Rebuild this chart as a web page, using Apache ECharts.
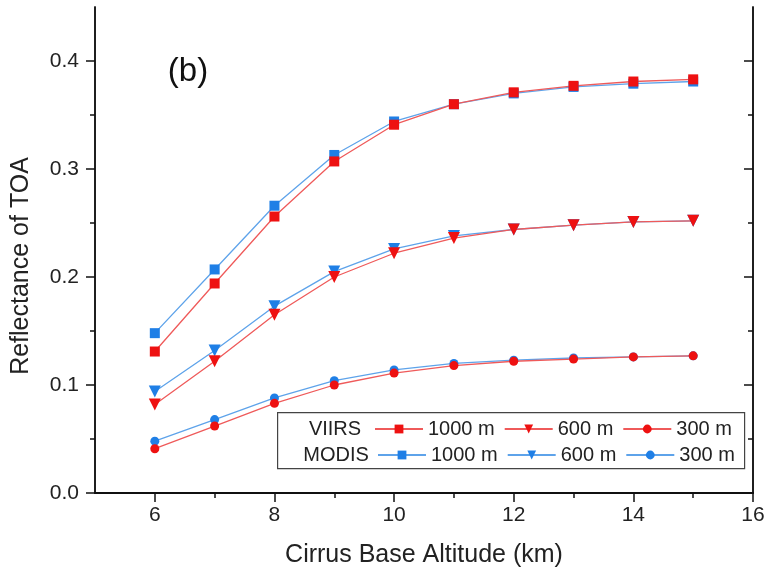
<!DOCTYPE html>
<html>
<head>
<meta charset="utf-8">
<script src="https://cdn.jsdelivr.net/npm/echarts@6.0.0/dist/echarts.min.js"></script>
<style>
html,body{margin:0;padding:0;background:#fff;}
#chart{width:768px;height:580px;}
</style>
</head>
<body>
<div id="chart"></div>
<script>
// ---- data ----
const altitudes = [6, 7, 8, 9, 10, 11, 12, 13, 14, 15];
const viirs1000 = [0.131, 0.194, 0.256, 0.307, 0.341, 0.360, 0.371, 0.377, 0.381, 0.383];
const modis1000 = [0.148, 0.207, 0.266, 0.313, 0.344, 0.360, 0.370, 0.376, 0.379, 0.381];
const viirs600  = [0.082, 0.122, 0.165, 0.200, 0.222, 0.236, 0.244, 0.248, 0.251, 0.252];
const modis600  = [0.094, 0.132, 0.173, 0.205, 0.226, 0.238, 0.244, 0.248, 0.251, 0.252];
const viirs300  = [0.041, 0.062, 0.083, 0.100, 0.111, 0.118, 0.122, 0.124, 0.126, 0.127];
const modis300  = [0.048, 0.068, 0.088, 0.104, 0.114, 0.120, 0.123, 0.125, 0.126, 0.127];
const xMajorTicks = [6, 8, 10, 12, 14, 16];
const xMinorTicks = [7, 9, 11, 13, 15];
const yMajorTicks = [0, 0.1, 0.2, 0.3, 0.4];
const yMinorTicks = [0.05, 0.15, 0.25, 0.35];

const RED = '#ee1111', RED_LINE = '#ef5a5a';
const BLUE = '#1f7fe6', BLUE_LINE = '#5ea3ea';
const FONT = 'Liberation Sans, Arial, sans-serif';

function pairs(ys) { return altitudes.map((x, i) => [x, ys[i]]); }
function mkSeries(name, ys, symbol, size, color, lineColor, rotate) {
  return {
    name: name, type: 'line', data: pairs(ys),
    symbol: symbol, symbolSize: size, symbolRotate: rotate || 0,
    showSymbol: true,
    itemStyle: { color: color },
    lineStyle: { color: lineColor, width: 1.3 },
    emphasis: { disabled: true },
    animation: false, z: 2
  };
}

const chart = echarts.init(document.getElementById('chart'), null, { renderer: 'canvas' });

const axisLineStyle = { show: true, lineStyle: { color: '#111', width: 1.5 } };
function xAxisDef(pos, ticks, len, inside, labels) {
  return {
    type: 'value', min: 5, max: 16, position: pos,
    axisLine: axisLineStyle,
    axisTick: { show: true, inside: inside, length: len, customValues: ticks, lineStyle: { color: '#111', width: 1.5 } },
    axisLabel: labels ? { show: true, customValues: ticks, fontSize: 21, fontFamily: FONT, color: '#222', margin: 12 } : { show: false },
    splitLine: { show: false }
  };
}
function yAxisDef(pos, ticks, len, inside, labels) {
  return {
    type: 'value', min: 0, max: 0.45, position: pos,
    axisLine: axisLineStyle,
    axisTick: { show: true, inside: inside, length: len, customValues: ticks, lineStyle: { color: '#111', width: 1.5 } },
    axisLabel: labels ? { show: true, customValues: ticks, fontSize: 21, fontFamily: FONT, color: '#222', margin: 16,
      formatter: v => v.toFixed(1) } : { show: false },
    splitLine: { show: false }
  };
}

const xAxes = [
  Object.assign(xAxisDef('bottom', xMajorTicks, 9, false, true), {
    name: 'Cirrus Base Altitude (km)', nameLocation: 'middle', nameGap: 50,
    nameTextStyle: { fontSize: 25, fontFamily: FONT, color: '#222' }
  }),
  xAxisDef('bottom', xMinorTicks, 5, false, false),
  xAxisDef('top', xMajorTicks, 9, true, false),
  xAxisDef('top', xMinorTicks, 5, true, false)
];
const yAxes = [
  Object.assign(yAxisDef('left', yMajorTicks, 9, false, true), {
    name: 'Reflectance of TOA', nameLocation: 'middle', nameGap: 61,
    nameTextStyle: { fontSize: 25, fontFamily: FONT, color: '#222', padding: [0, 0, 0, -32] }
  }),
  yAxisDef('left', yMinorTicks, 5, false, false),
  yAxisDef('right', yMajorTicks, 9, true, false),
  yAxisDef('right', yMinorTicks, 5, true, false)
];

const series = [
  mkSeries('MODIS 1000 m', modis1000, 'rect', 10, BLUE, BLUE_LINE),
  mkSeries('MODIS 600 m', modis600, 'triangle', 12, BLUE, BLUE_LINE, 180),
  mkSeries('MODIS 300 m', modis300, 'circle', 9, BLUE, BLUE_LINE),
  mkSeries('VIIRS 1000 m', viirs1000, 'rect', 10, RED, RED_LINE),
  mkSeries('VIIRS 600 m', viirs600, 'triangle', 12, RED, RED_LINE, 180),
  mkSeries('VIIRS 300 m', viirs300, 'circle', 9, RED, RED_LINE)
];

const legendCommon = {
  orient: 'horizontal', itemWidth: 48, itemHeight: 11, itemGap: 9,
  padding: 0,
  selectedMode: false, z: 10,
  textStyle: { fontSize: 20, fontFamily: FONT, color: '#222', lineHeight: 22 },
  formatter: name => name.split(' ').slice(1).join(' ')
};

chart.setOption({
  backgroundColor: '#fff',
  animation: false,
  grid: { left: 95, top: 7, width: 658, height: 486, containLabel: false },
  xAxis: xAxes,
  yAxis: yAxes,
  legend: [
    Object.assign({}, legendCommon, { left: 374, top: 418, data: ['VIIRS 1000 m', 'VIIRS 600 m', 'VIIRS 300 m'] }),
    Object.assign({}, legendCommon, { left: 377, top: 444, data: ['MODIS 1000 m', 'MODIS 600 m', 'MODIS 300 m'] })
  ],
  graphic: [
    { type: 'rect', left: 277, top: 412, shape: { width: 467, height: 56 },
      style: { fill: '#fff', stroke: '#444', lineWidth: 1.2 }, z: 5 },
    { type: 'text', x: 335, y: 429, z: 60,
      style: { text: 'VIIRS', fontSize: 20, fontFamily: FONT, fill: '#222', align: 'center', verticalAlign: 'middle' } },
    { type: 'text', x: 336, y: 455, z: 60,
      style: { text: 'MODIS', fontSize: 20, fontFamily: FONT, fill: '#222', align: 'center', verticalAlign: 'middle' } },
    { type: 'text', x: 188, y: 72, z: 60,
      style: { text: '(b)', fontSize: 33, fontFamily: FONT, fill: '#111', align: 'center', verticalAlign: 'middle' } }
  ],
  series: series
});
</script>
</body>
</html>
